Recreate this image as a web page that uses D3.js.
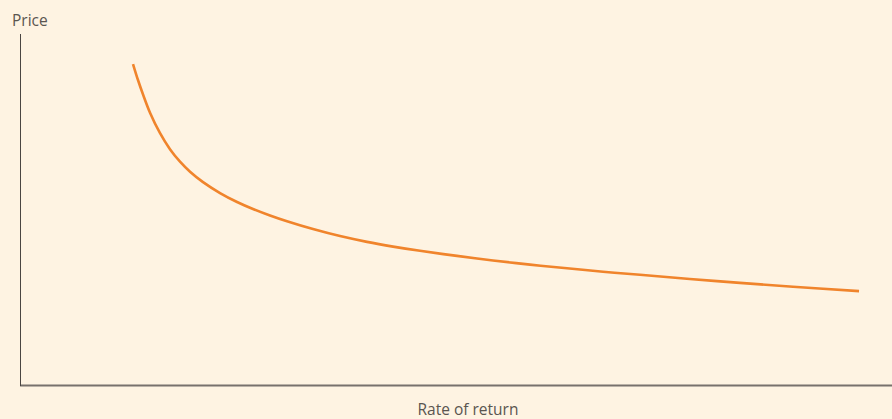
<!DOCTYPE html>
<html>
<head>
<meta charset="utf-8">
<script src="https://cdn.jsdelivr.net/npm/d3@7"></script>
<style>
  html, body { margin: 0; padding: 0; background: #fef3e2; }
  svg { display: block; }
  text { font-family: "Open Sans", "Noto Sans", sans-serif; fill: #5a5550; }
</style>
</head>
<body>
<svg id="chart" width="892" height="419"></svg>
<script>
// Price falls steeply, then flattens, as the rate of return rises
const rateOfReturn = [1.296, 1.353, 1.411, 1.491, 1.606, 1.720, 1.835, 1.950, 2.099, 2.294, 2.489, 2.672, 2.867, 3.062, 3.360, 3.670, 3.979, 4.278, 4.587, 5.011, 5.424, 5.849, 6.273, 6.686, 7.110, 7.993, 8.865, 9.622];
const price        = [9.145, 8.689, 8.276, 7.758, 7.174, 6.718, 6.362, 6.077, 5.781, 5.470, 5.214, 5.014, 4.829, 4.664, 4.442, 4.242, 4.077, 3.943, 3.823, 3.678, 3.547, 3.430, 3.325, 3.228, 3.140, 2.960, 2.801, 2.675];
const xDomain = [0, 10];
const yDomain = [0, 10];
const xLabel = "Rate of return";
const yLabel = "Price";

const svg = d3.select("#chart");
const margin = { left: 20, right: 892, top: 34, bottom: 385 };

const x = d3.scaleLinear().domain(xDomain).range([margin.left, margin.right]);
const y = d3.scaleLinear().domain(yDomain).range([margin.bottom, margin.top]);

// axes
svg.append("line")
  .attr("x1", x(0)).attr("x2", x(xDomain[1]))
  .attr("y1", y(0) + 0.5).attr("y2", y(0) + 0.5)
  .attr("stroke", "#77716c").attr("stroke-width", 2);
svg.append("line")
  .attr("x1", x(0) + 0.5).attr("x2", x(0) + 0.5)
  .attr("y1", y(yDomain[1])).attr("y2", y(0) + 1)
  .attr("stroke", "#4a4542").attr("stroke-width", 1);

// curve
const pts = rateOfReturn.map((r, i) => [r, price[i]]);
svg.append("path")
  .datum(pts)
  .attr("fill", "none")
  .attr("stroke", "#f0842c")
  .attr("stroke-width", 2.6)
  .attr("stroke-linecap", "butt")
  .attr("d", d3.line().x(d => x(d[0])).y(d => y(d[1])).curve(d3.curveCatmullRom.alpha(0.5)));

// axis titles
svg.append("text")
  .attr("x", 12).attr("y", 26)
  .attr("font-size", 15.5)
  .text(yLabel);
svg.append("text")
  .attr("x", 468).attr("y", 415)
  .attr("text-anchor", "middle")
  .attr("font-size", 15.5)
  .text(xLabel);
</script>
</body>
</html>
